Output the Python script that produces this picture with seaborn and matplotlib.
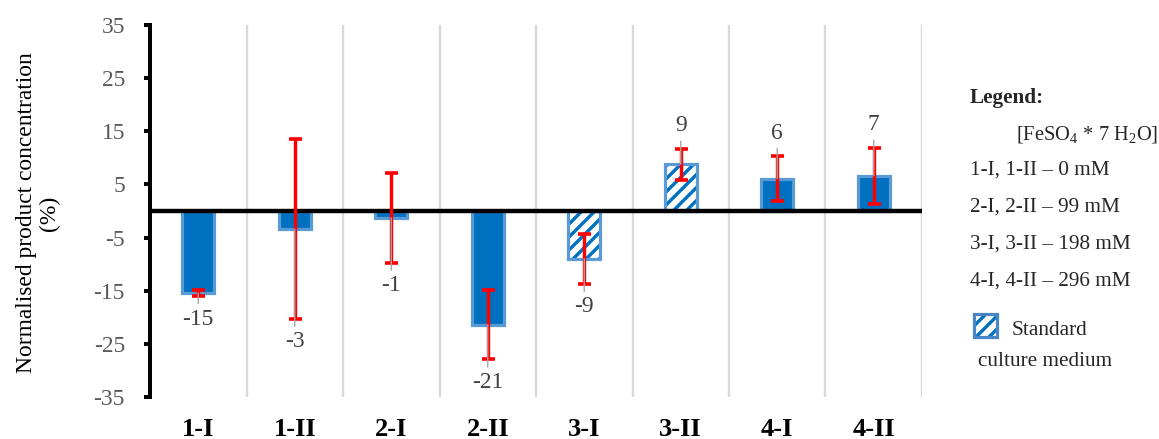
import matplotlib
matplotlib.use("Agg")
import matplotlib.pyplot as plt
import matplotlib.transforms as mtransforms
from matplotlib.patches import Rectangle
import seaborn as sns

# Samples and their normalised product concentration (%), with standard deviations
categories = ["1-I", "1-II", "2-I", "2-II", "3-I", "3-II", "4-I", "4-II"]
values = [-15.4, -3.4, -1.3, -21.4, -9.0, 8.8, 6.1, 6.6]
errors = [0.6, 16.9, 8.4, 6.5, 4.7, 2.9, 4.2, 5.3]
standard_medium = [False, False, False, False, True, True, False, False]
y_ticks = [-35, -25, -15, -5, 5, 15, 25, 35]

legend_title = "Legend:"
legend_header = "[FeSO$_4$ * 7 H$_2$O]"
legend_rows = ["1-I, 1-II \u2013 0 mM", "2-I, 2-II \u2013 99 mM",
               "3-I, 3-II \u2013 198 mM", "4-I, 4-II \u2013 296 mM"]
legend_patch_label = ["Standard", "culture medium"]

DARK = "#0070C0"
LIGHT = "#5B9BD5"
RED = "#FF0000"
GREY = "#A6A6A6"

W, H = 1159, 439
DPI = 78


def pt(px):
    """Convert a size in output pixels to points."""
    return px * 72 / DPI


sns.set_theme(style="white")
plt.rcParams["font.family"] = ["Liberation Serif", "DejaVu Serif"]
plt.rcParams["mathtext.fontset"] = "custom"
plt.rcParams["mathtext.rm"] = "Liberation Serif"
plt.rcParams["hatch.linewidth"] = pt(3.4)

fig = plt.figure(figsize=(W / DPI, H / DPI), dpi=DPI)
ax = fig.add_axes([150 / W, 1 - 397 / H, (922 - 150) / W, (397 - 25) / H])

sns.barplot(x=categories, y=values, color=DARK, saturation=1, width=0.33,
            edgecolor=LIGHT, linewidth=pt(3.2), errorbar=None, ax=ax, zorder=2)

bars = list(ax.patches)
for bar, std in zip(bars, standard_medium):
    if std:
        # hatch in dark blue, outline in light blue drawn as a separate frame
        bar.set_facecolor("white")
        bar.set_edgecolor(DARK)
        bar.set_linewidth(0)
        bar.set_hatch("//")
        ax.add_patch(Rectangle(bar.get_xy(), bar.get_width(), bar.get_height(),
                               fill=False, edgecolor=LIGHT, linewidth=pt(3.2),
                               zorder=2.1))

centers = [b.get_x() + b.get_width() / 2 for b in bars]
ax.errorbar(centers, values, yerr=errors, fmt="none", ecolor=RED,
            elinewidth=pt(3.4), capsize=pt(6.5), capthick=pt(3.6), zorder=4)

# value labels beyond the error bar ends, with thin leader lines to the bars
for x, v, e in zip(centers, values, errors):
    sign = 1 if v >= 0 else -1
    off = mtransforms.ScaledTranslation(0, sign * 23 / DPI, fig.dpi_scale_trans)
    ax.annotate(f"{v:.0f}", xy=(x, v), xytext=(x, v + sign * e),
                textcoords=ax.transData + off, ha="center", va="center",
                fontsize=pt(23.5), color="#404040", zorder=6,
                arrowprops=dict(arrowstyle="-", color=GREY, lw=pt(1.4),
                                shrinkA=2, shrinkB=0))

ax.axhline(0, color="black", linewidth=pt(4.4), zorder=3)

ax.set_xlim(-0.5, len(categories) - 0.5)
ax.set_ylim(-35, 35)
ax.set_yticks(y_ticks)
ax.set_yticklabels([str(t) for t in y_ticks], color="#595959", fontsize=pt(23.5))
ax.tick_params(axis="y", which="major", left=True, length=pt(6), width=pt(4),
               direction="out", pad=pt(19), color="black")
ax.set_xticks(range(len(categories)))
ax.set_xticklabels(categories, fontweight="bold", fontsize=pt(26.5), color="black")
ax.tick_params(axis="x", which="major", bottom=False, length=0, pad=pt(21))

ax.set_xticks([i + 0.5 for i in range(len(categories))], minor=True)
ax.tick_params(axis="x", which="minor", bottom=False, length=0)
ax.grid(False)
ax.grid(True, which="minor", axis="x", color="#D9D9D9", linewidth=pt(2.4), zorder=0)
ax.set_axisbelow(True)

for side in ["top", "right", "bottom"]:
    ax.spines[side].set_visible(False)
ax.spines["left"].set_color("black")
ax.spines["left"].set_linewidth(pt(4))
ax.set_xlabel("")
ax.set_ylabel("")

fig.text(38 / W, 1 - 213 / H, "Normalised product concentration\n(%)",
         rotation=90, ha="center", va="center", multialignment="center",
         fontsize=pt(23.5), color="black", linespacing=1.15)

# legend block on the right
fs_leg = pt(21.2)
fig.text(970 / W, 1 - 98 / H, legend_title, fontweight="bold", fontsize=fs_leg,
         ha="left", va="center")
fig.text(1016 / W, 1 - 135 / H, legend_header, fontsize=pt(20.5),
         ha="left", va="center")
for i, row in enumerate(legend_rows):
    fig.text(970 / W, 1 - (170 + 37 * i) / H, row, fontsize=fs_leg,
             ha="left", va="center")

hx, hy, hw, hh = 974, 314, 23, 23
fig.patches.append(Rectangle((hx / W, 1 - (hy + hh) / H), hw / W, hh / H,
                             transform=fig.transFigure, facecolor="white",
                             edgecolor=DARK, linewidth=0, hatch="//"))
fig.patches.append(Rectangle((hx / W, 1 - (hy + hh) / H), hw / W, hh / H,
                             transform=fig.transFigure, fill=False,
                             edgecolor="#4A86C5", linewidth=pt(3.2)))
fig.text(1012 / W, 1 - 330 / H, legend_patch_label[0], fontsize=fs_leg,
         ha="left", va="center")
fig.text(978 / W, 1 - 361 / H, legend_patch_label[1], fontsize=fs_leg,
         ha="left", va="center")

fig.savefig("out.png", dpi=DPI)
